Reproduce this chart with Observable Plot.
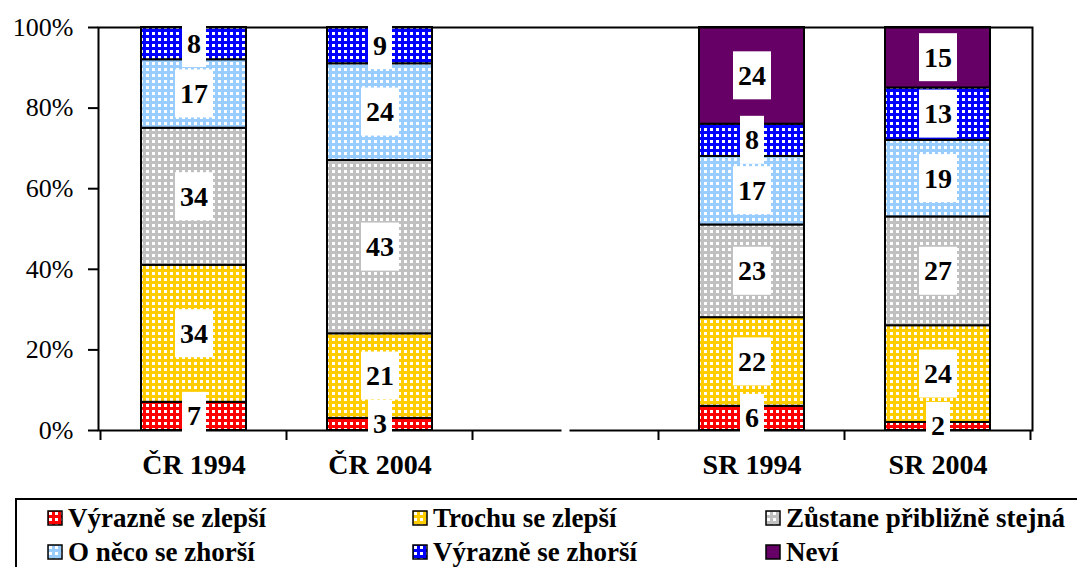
<!DOCTYPE html>
<html><head><meta charset="utf-8">
<script src="https://cdn.jsdelivr.net/npm/d3@7"></script>
<script src="https://cdn.jsdelivr.net/npm/@observablehq/plot@0.6"></script>
<style>
body{margin:0;background:#fff;font-family:"Liberation Serif","Times New Roman","DejaVu Serif",serif;}
#chart svg{display:block}
#chart svg text{font-family:"Liberation Serif","Times New Roman","DejaVu Serif",serif;}
#legend{position:relative;margin-left:15px;margin-top:1px;width:1075px;height:90px;border:2px solid #000;box-sizing:border-box;display:grid;grid-template-columns:365px 353px auto;grid-auto-rows:34px;padding-left:30px;padding-top:1px;}
.item{display:flex;align-items:center;font-weight:bold;font-size:27px;white-space:nowrap;color:#000;font-family:"Liberation Serif","Times New Roman","DejaVu Serif",serif;}
.item svg{margin-right:5px;flex:none}
</style></head><body>
<svg width="0" height="0" style="position:absolute"><defs id="defs"></defs></svg>
<div id="chart"></div>
<div id="legend"></div>
<script>
const categories = ["ČR 1994", "ČR 2004", "gap", "SR 1994", "SR 2004"];
const series = ["Výrazně se zlepší", "Trochu se zlepší", "Zůstane přibližně stejná", "O něco se zhorší", "Výrazně se zhorší", "Neví"];
const cr1994 = [7, 34, 34, 17, 8, 0];
const cr2004 = [3, 21, 43, 24, 9, 0];
const sr1994 = [6, 22, 23, 17, 8, 24];
const sr2004 = [2, 24, 27, 19, 13, 15];
const yTicks = [0, 20, 40, 60, 80, 100];

// styles
const colors = ["#ff0000", "#ffcc00", "#c0c0c0", "#99ccff", "#0000ff", "#660066"];
const patterned = [true, true, true, true, true, false];

const defs = d3.select("#defs");
const fills = colors.map((c, i) => {
  if (!patterned[i]) return c;
  const p = defs.append("pattern").attr("id", "pat" + i)
    .attr("patternUnits", "userSpaceOnUse").attr("width", 6).attr("height", 6);
  p.append("rect").attr("width", 6).attr("height", 6).attr("fill", c);
  p.append("rect").attr("x", 2).attr("y", 2).attr("width", 3).attr("height", 3).attr("fill", "#fff");
  return `url(#pat${i})`;
});

const rows = [["ČR 1994", cr1994], ["ČR 2004", cr2004], ["SR 1994", sr1994], ["SR 2004", sr2004]];
const data = [];
for (const [cat, vals] of rows) {
  vals.forEach((v, i) => { if (v > 0) data.push({cat, series: series[i], value: v}); });
}

const chart = Plot.plot({
  width: 1077, height: 497,
  marginLeft: 98, marginRight: 45, marginTop: 27, marginBottom: 67,
  style: {fontSize: "26px", background: "white", overflow: "visible", color: "#000"},
  x: {domain: categories, paddingInner: 0.437, paddingOuter: 0.2185, label: null, axis: null},
  y: {domain: [0, 100], label: null, axis: null},
  color: {domain: series, range: fills},
  marks: [
    Plot.barY(data, {x: "cat", y: "value", fill: "series", stroke: "black", strokeWidth: 2}),
    Plot.frame({stroke: "black", strokeWidth: 2}),
    Plot.axisY({ticks: yTicks, tickFormat: d => d + "%", tickSize: 10, tickPadding: 15, fontSize: 26, label: null, strokeWidth: 2}),
    Plot.axisX({tickSize: 0, tickPadding: 24, fontSize: 28, fontWeight: "bold", label: null, tickFormat: d => d === "gap" ? "" : d}),
    Plot.text(data, Plot.stackY({x: "cat", y: "value", text: "value", fontSize: 28, fontWeight: "bold", fill: "black"}))
  ]
});
document.getElementById("chart").appendChild(chart);

// boundary ticks, axis break, label boxes
const sx = chart.scale("x"), sy = chart.scale("y");
const svg = d3.select(chart);
const y0 = sy.apply(0);
const half = (sx.step - sx.bandwidth) / 2;
const bounds = categories.map(c => sx.apply(c) - half)
  .concat([sx.apply(categories[categories.length - 1]) + sx.bandwidth + half]);
const gx = sx.apply("gap") + sx.bandwidth / 2;
svg.append("rect").attr("x", gx - 4).attr("y", y0 - 2).attr("width", 8).attr("height", 4).attr("fill", "white");
svg.append("g").selectAll("line").data(bounds).join("line")
  .attr("x1", d => d).attr("x2", d => d).attr("y1", y0).attr("y2", y0 + 10)
  .attr("stroke", "black").attr("stroke-width", 2);

svg.selectAll('g[aria-label="text"] text').each(function () {
  const b = this.getBBox();
  const cy = b.y + b.height / 2;
  const r = d3.select(this.parentNode).insert("rect", () => this)
    .attr("x", b.x - 5).attr("width", b.width + 10)
    .attr("y", cy - 24).attr("height", 48).attr("fill", "white");
  const t = this.getAttribute("transform");
  if (t) r.attr("transform", t);
});

// legend
const leg = d3.select("#legend");
series.forEach((name, i) => {
  const it = leg.append("div").attr("class", "item");
  const s = it.append("svg").attr("width", 16).attr("height", 16);
  s.append("rect").attr("x", 1).attr("y", 1).attr("width", 14).attr("height", 14)
    .attr("fill", fills[i]).attr("stroke", "black").attr("stroke-width", 1.5);
  it.append("span").text(name);
});
</script>
</body></html>
